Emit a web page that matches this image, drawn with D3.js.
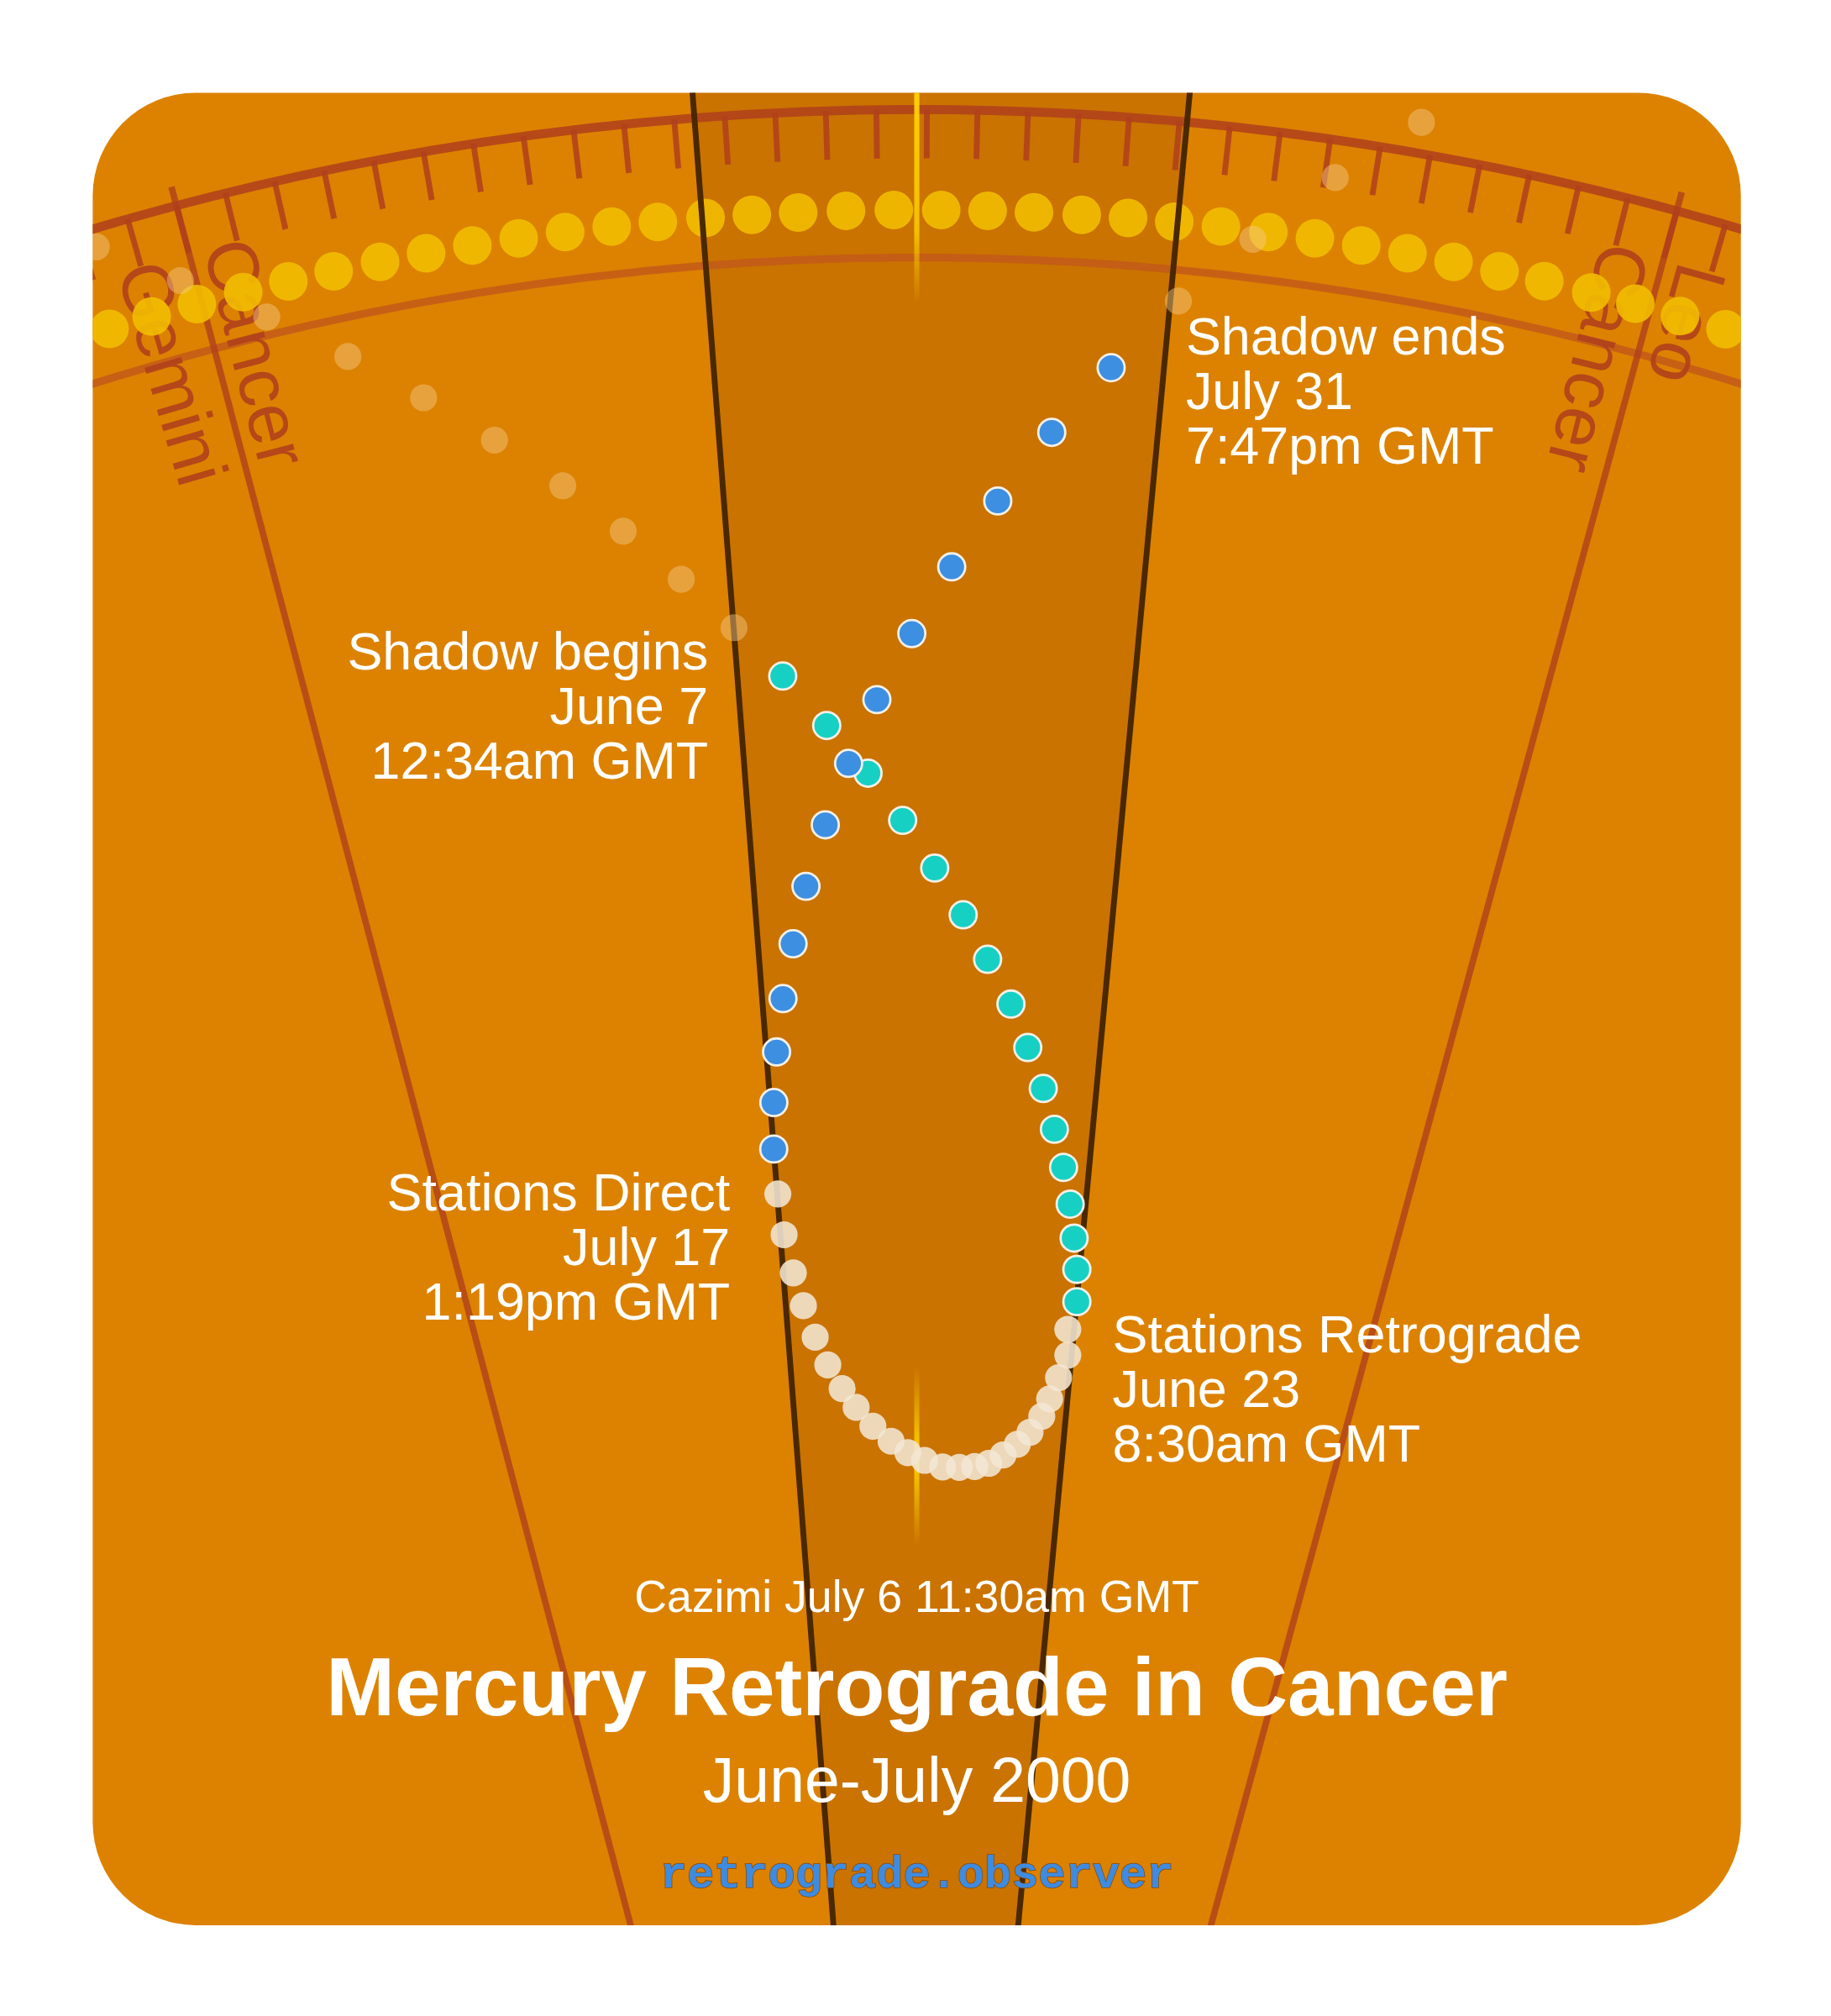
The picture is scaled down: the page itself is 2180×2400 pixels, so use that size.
<!DOCTYPE html>
<html lang="en">
  <head>
    <meta charset="utf-8" />
    <title>Mercury Retrograde in Cancer</title>
    <script src="https://d3js.org/d3.v7.min.js"></script>
    <style>
      body { margin: 0; background: #fff; }
      text { font-family: "Liberation Sans", Arial, sans-serif; }
    </style>
  </head>
  <body>
    <div id="chart"></div>
    <script>
      // ecliptic longitudes (deg) and radial distances (chart units)
      const sunLon = [88.03, 88.93, 89.89, 90.87, 91.82, 92.77, 93.74, 94.7, 95.66, 96.62, 97.58, 98.54,
        99.49, 100.47, 101.42, 102.37, 103.35, 104.33, 105.3, 106.25, 107.2, 108.18, 109.13, 110.08,
        111.04, 112.02, 112.98, 113.94, 114.9, 115.86, 116.82, 117.76, 118.75, 119.68, 120.63, 121.6];
      const preLon = [88.25, 89.69, 91.22, 92.69, 94.1, 95.46, 96.81, 98.04, 99.26, 100.41];
      const preDist = [2237, 2194, 2150, 2106, 2063, 2021, 1978, 1937, 1895, 1854];
      const shadowInLon = [101.51, 102.54, 103.55, 104.43, 105.28, 106.07, 106.78, 107.49, 108.04,
        108.57, 108.99, 109.36, 109.66, 109.88, 110.06, 110.16];
      const shadowInDist = [1814, 1774, 1736, 1699, 1662, 1626, 1592, 1558, 1525, 1494, 1463, 1434,
        1406, 1380, 1356, 1331];
      const retroLon = [109.94, 110.02, 109.77, 109.52, 109.29, 108.91, 108.48, 107.98, 107.47, 106.95,
        106.38, 105.76, 105.09, 104.47, 103.86, 103.21, 102.63, 102.16, 101.7, 101.32, 100.99, 100.73,
        100.52, 100.42];
      const retroDist = [1309, 1289, 1271, 1254, 1240, 1227, 1217, 1208, 1201, 1198, 1197, 1197, 1202,
        1208, 1217, 1229, 1244, 1259, 1278, 1300, 1325, 1351, 1381, 1413];
      const shadowOutLon = [100.4, 100.51, 100.7, 100.99, 101.37, 101.81, 102.4, 103.06, 103.81,
        104.68, 105.62, 106.65, 107.8, 109.01];
      const shadowOutDist = [1448, 1484, 1523, 1564, 1606, 1650, 1697, 1744, 1793, 1844, 1896, 1948,
        2003, 2056];
      const postLon = [110.32, 111.72, 113.21, 114.72];
      const postDist = [2112, 2166, 2222, 2275];
      const signNames = ["Gemini", "Cancer", "Leo"];
      const signStart = [60, 90, 120];
      const cazimiLon = 104.8;
      const shadowLons = [100.4, 110.15];

      const W = 1422, H = 1565.5;
      const cx = 712, cy = 2336;
      const rOuter = 2251, rInner = 2136, rSun = 2173;

      const angle = d3.scaleLinear().domain([cazimiLon, cazimiLon + 1]).range([0, Math.PI / 180]);
      const radius = d3.scaleLinear().domain([0, 2500]).range([0, 2500]);
      const px = (lon, d) => cx + radius(d) * Math.sin(angle(lon));
      const py = (lon, d) => cy - radius(d) * Math.cos(angle(lon));

      const svg = d3.select("#chart").append("svg")
        .attr("width", 2180).attr("height", 2400)
        .attr("viewBox", `0 0 ${W} ${H}`);

      const defs = svg.append("defs");
      defs.append("clipPath").attr("id", "card")
        .append("rect").attr("x", 72).attr("y", 72).attr("width", 1280).attr("height", 1423).attr("rx", 80);
      const grad = (id, stops) => {
        const g = defs.append("linearGradient").attr("id", id).attr("x1", 0).attr("y1", 0).attr("x2", 0).attr("y2", 1);
        stops.forEach(s => g.append("stop").attr("offset", s[0]).attr("stop-color", "#ffd200").attr("stop-opacity", s[1]));
      };
      grad("gTop", [[0, 1], [0.7, 0.8], [1, 0]]);
      grad("gMid", [[0, 0], [0.5, 1], [1, 0]]);

      svg.append("rect").attr("x", 72).attr("y", 72).attr("width", 1280).attr("height", 1423)
        .attr("rx", 80).attr("fill", "#dc8200");

      const g = svg.append("g").attr("clip-path", "url(#card)");

      // shadow band
      const band = d3.arc().innerRadius(0).outerRadius(2500)
        .startAngle(angle(shadowLons[0])).endAngle(angle(shadowLons[1]));
      g.append("path").attr("d", band()).attr("transform", `translate(${cx},${cy})`)
        .attr("fill", "#a85a00").attr("opacity", 0.35);

      // zodiac ring
      const red = "#b0401c";
      const ring = g.append("g").attr("transform", `translate(${cx},${cy})`);
      [[rOuter, 7, red, 0.85], [rInner, 6, "#c2571a", 0.8]].forEach(([r, w, c, o]) =>
        ring.append("circle").attr("r", radius(r)).attr("fill", "none")
          .attr("stroke", c).attr("stroke-width", w).attr("stroke-opacity", o));
      const ticks = d3.range(80, 131);
      ring.selectAll("line.tick").data(ticks).enter().append("line")
        .attr("x1", d => radius(rOuter) * Math.sin(angle(d)))
        .attr("y1", d => -radius(rOuter) * Math.cos(angle(d)))
        .attr("x2", d => (radius(rOuter) - 38) * Math.sin(angle(d)))
        .attr("y2", d => -(radius(rOuter) - 38) * Math.cos(angle(d)))
        .attr("stroke", red).attr("stroke-width", 4.5).attr("stroke-opacity", 0.85);
      // sign boundaries
      ring.selectAll("line.bound").data(signStart.slice(1)).enter().append("line")
        .attr("x1", d => radius(rOuter + 15) * Math.sin(angle(d)))
        .attr("y1", d => -radius(rOuter + 15) * Math.cos(angle(d)))
        .attr("x2", d => 500 * Math.sin(angle(d)))
        .attr("y2", d => -500 * Math.cos(angle(d)))
        .attr("stroke", red).attr("stroke-width", 5).attr("stroke-opacity", 0.8);

      // sign labels along boundaries
      const labels = [
        { name: signNames[0], lon: signStart[1] - 1.5 },
        { name: signNames[1], lon: signStart[1] + 0.3 },
        { name: signNames[1], lon: signStart[2] - 1.3 },
        { name: signNames[2], lon: signStart[2] + 0.3 }
      ];
      g.selectAll("text.sign").data(labels).enter().append("text")
        .attr("transform", d => `translate(${px(d.lon, 2215)},${py(d.lon, 2215)}) rotate(${90 + (d.lon - cazimiLon)})`)
        .attr("font-size", 56).attr("fill", red).attr("fill-opacity", 0.9)
        .text(d => d.name);

      // sun
      g.selectAll("circle.sun").data(sunLon).enter().append("circle")
        .attr("cx", d => px(d, rSun)).attr("cy", d => py(d, rSun)).attr("r", 15)
        .attr("fill", "#f2bc00").attr("opacity", 0.9);

      // cazimi line
      g.append("rect").attr("x", cx - 2).attr("y", py(cazimiLon, 2290)).attr("width", 4).attr("height", 2290 - 2100)
        .attr("fill", "url(#gTop)");
      g.append("rect").attr("x", cx - 2).attr("y", py(cazimiLon, 1275)).attr("width", 4).attr("height", 140)
        .attr("fill", "url(#gMid)");

      // shadow rays
      g.selectAll("line.shadow").data(shadowLons).enter().append("line")
        .attr("x1", d => px(d, 2400)).attr("y1", d => py(d, 2400))
        .attr("x2", d => px(d, 700)).attr("y2", d => py(d, 700))
        .attr("stroke", "#4a2800").attr("stroke-width", 4.5);

      // mercury path
      const dots = (lons, dists, fill, stroke, op) =>
        g.append("g").selectAll("circle").data(lons).enter().append("circle")
          .attr("cx", (d, i) => px(d, dists[i])).attr("cy", (d, i) => py(d, dists[i]))
          .attr("r", 10.5).attr("fill", fill).attr("opacity", op)
          .attr("stroke", stroke).attr("stroke-width", stroke === "none" ? 0 : 1.8);
      dots(preLon, preDist, "#f3c98a", "none", 0.45);
      dots(postLon, postDist, "#f3c98a", "none", 0.45);
      dots(retroLon, retroDist, "#f3e6d4", "none", 0.88);
      dots(shadowInLon, shadowInDist, "#17d0c4", "#f4f0e8", 1);
      dots(shadowOutLon, shadowOutDist, "#3d8fe2", "#f4f0e8", 1);

      // annotations
      const note = (x, y, lines, anchor) => {
        const t = svg.append("text").attr("x", x).attr("y", y).attr("text-anchor", anchor)
          .attr("font-size", 41).attr("fill", "#fff");
        lines.forEach((l, i) => t.append("tspan").attr("x", x).attr("dy", i ? 42.5 : 0).text(l));
      };
      note(921, 275, ["Shadow ends", "July 31", "7:47pm GMT"], "start");
      note(550, 520, ["Shadow begins", "June 7", "12:34am GMT"], "end");
      note(567, 940, ["Stations Direct", "July 17", "1:19pm GMT"], "end");
      note(864, 1050, ["Stations Retrograde", "June 23", "8:30am GMT"], "start");

      svg.append("text").attr("x", cx).attr("y", 1252).attr("text-anchor", "middle")
        .attr("font-size", 35).attr("fill", "#fff").text("Cazimi July 6 11:30am GMT");
      svg.append("text").attr("x", cx).attr("y", 1332).attr("text-anchor", "middle")
        .attr("font-size", 64).attr("font-weight", "bold").attr("fill", "#fff").text("Mercury Retrograde in Cancer");
      svg.append("text").attr("x", cx).attr("y", 1399).attr("text-anchor", "middle")
        .attr("font-size", 49).attr("fill", "#fff").text("June-July 2000");
      svg.append("text").attr("x", cx).attr("y", 1466).attr("text-anchor", "middle")
        .style("font-family", "'Liberation Mono', 'DejaVu Sans Mono', monospace")
        .attr("font-size", 35).attr("font-weight", "bold").attr("fill", "#3f8be0")
        .attr("stroke", "#8a4a00").attr("stroke-width", 1).attr("paint-order", "stroke")
        .text("retrograde.observer");
    </script>
  </body>
</html>
